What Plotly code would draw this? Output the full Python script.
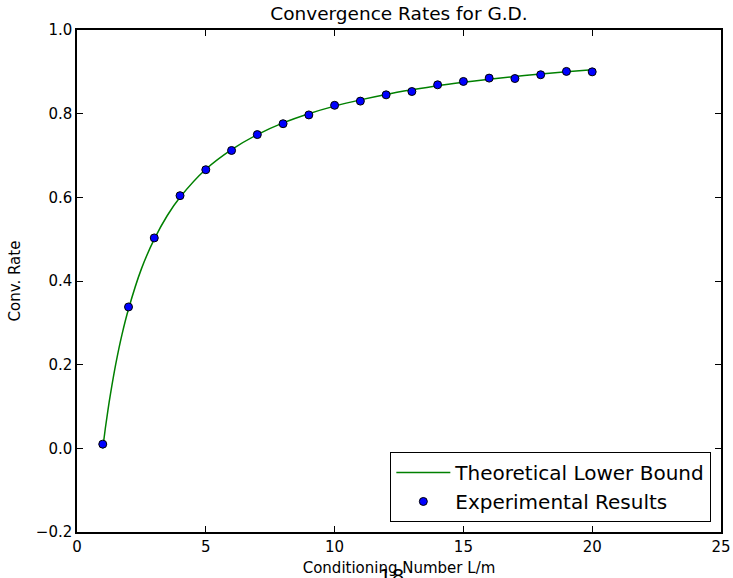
import plotly.graph_objects as go

# Data
theory_x = [1, 1.1, 1.2, 1.3, 1.5, 1.75, 2, 2.5, 3, 3.5, 4, 5, 6, 7, 8, 9, 10,
            11, 12, 13, 14, 15, 16, 17, 18, 19, 20]
theory_y = [0.0, 0.048, 0.091, 0.13, 0.20, 0.273, 0.333, 0.429, 0.5, 0.556, 0.6,
            0.667, 0.714, 0.75, 0.778, 0.8, 0.818, 0.833, 0.846, 0.857, 0.867,
            0.875, 0.882, 0.889, 0.895, 0.9, 0.905]

exp_x = [1, 2, 3, 4, 5, 6, 7, 8, 9, 10, 11, 12, 13, 14, 15, 16, 17, 18, 19, 20]
exp_y = [0.01, 0.338, 0.503, 0.604, 0.666, 0.712, 0.75, 0.776, 0.797, 0.82,
         0.83, 0.845, 0.853, 0.869, 0.877, 0.885, 0.884, 0.893, 0.901, 0.900]

x_ticks = [0, 5, 10, 15, 20, 25]
y_ticks = [-0.2, 0.0, 0.2, 0.4, 0.6, 0.8, 1.0]
y_tick_text = ["\u22120.2", "0.0", "0.2", "0.4", "0.6", "0.8", "1.0"]

FONT = "DejaVu Sans, Liberation Sans, sans-serif"

fig = go.Figure()
fig.add_trace(go.Scatter(
    x=theory_x, y=theory_y, mode="lines", line=dict(color="#008000", width=1.5, shape="spline"),
    name="Theoretical Lower Bound"))
fig.add_trace(go.Scatter(
    x=exp_x, y=exp_y, mode="markers",
    marker=dict(color="#0000ff", size=8, line=dict(color="black", width=1)),
    name="Experimental Results"))

axis_common = dict(
    showgrid=False, zeroline=False, showline=True, linecolor="black", linewidth=1.5,
    mirror="ticks", ticks="inside", ticklen=6, tickcolor="black", automargin=False,
    tickfont=dict(family=FONT, size=15, color="black"),
)

fig.update_layout(
    width=733, height=578,
    margin=dict(l=77, r=12, t=30, b=46),
    paper_bgcolor="white", plot_bgcolor="white",
    font=dict(family=FONT, color="black"),
    title=dict(text="Convergence Rates for G.D.", x=0.5, xref="paper", xanchor="center",
               y=1 - 14 / 578, yref="container", yanchor="middle", automargin=False,
               font=dict(family=FONT, size=18.5, color="black")),
    xaxis=dict(range=[0, 25], tickvals=x_ticks, ticktext=[str(v) for v in x_ticks],
               title=dict(text="Conditioning Number L/m", standoff=8,
                          font=dict(family=FONT, size=15, color="black")),
               **axis_common),
    yaxis=dict(range=[-0.2, 1.0], tickvals=y_ticks, ticktext=y_tick_text,
               title=dict(text="Conv. Rate", standoff=12,
                          font=dict(family=FONT, size=15, color="black")),
               **axis_common),
    legend=dict(x=0.985, y=0.02, xanchor="right", yanchor="bottom",
                bgcolor="white", bordercolor="black", borderwidth=1,
                font=dict(family=FONT, size=20, color="black"),
                itemwidth=54, tracegroupgap=0),
    showlegend=True,
)

fig.add_annotation(text="18", xref="paper", yref="paper", x=0.488, y=-0.06,
                   xanchor="center", yanchor="top", showarrow=False,
                   font=dict(family=FONT, size=20, color="black"))

fig.write_html("out.html", config={"displayModeBar": False},
               post_script="document.body.style.margin='0px';document.body.style.overflow='hidden';")
